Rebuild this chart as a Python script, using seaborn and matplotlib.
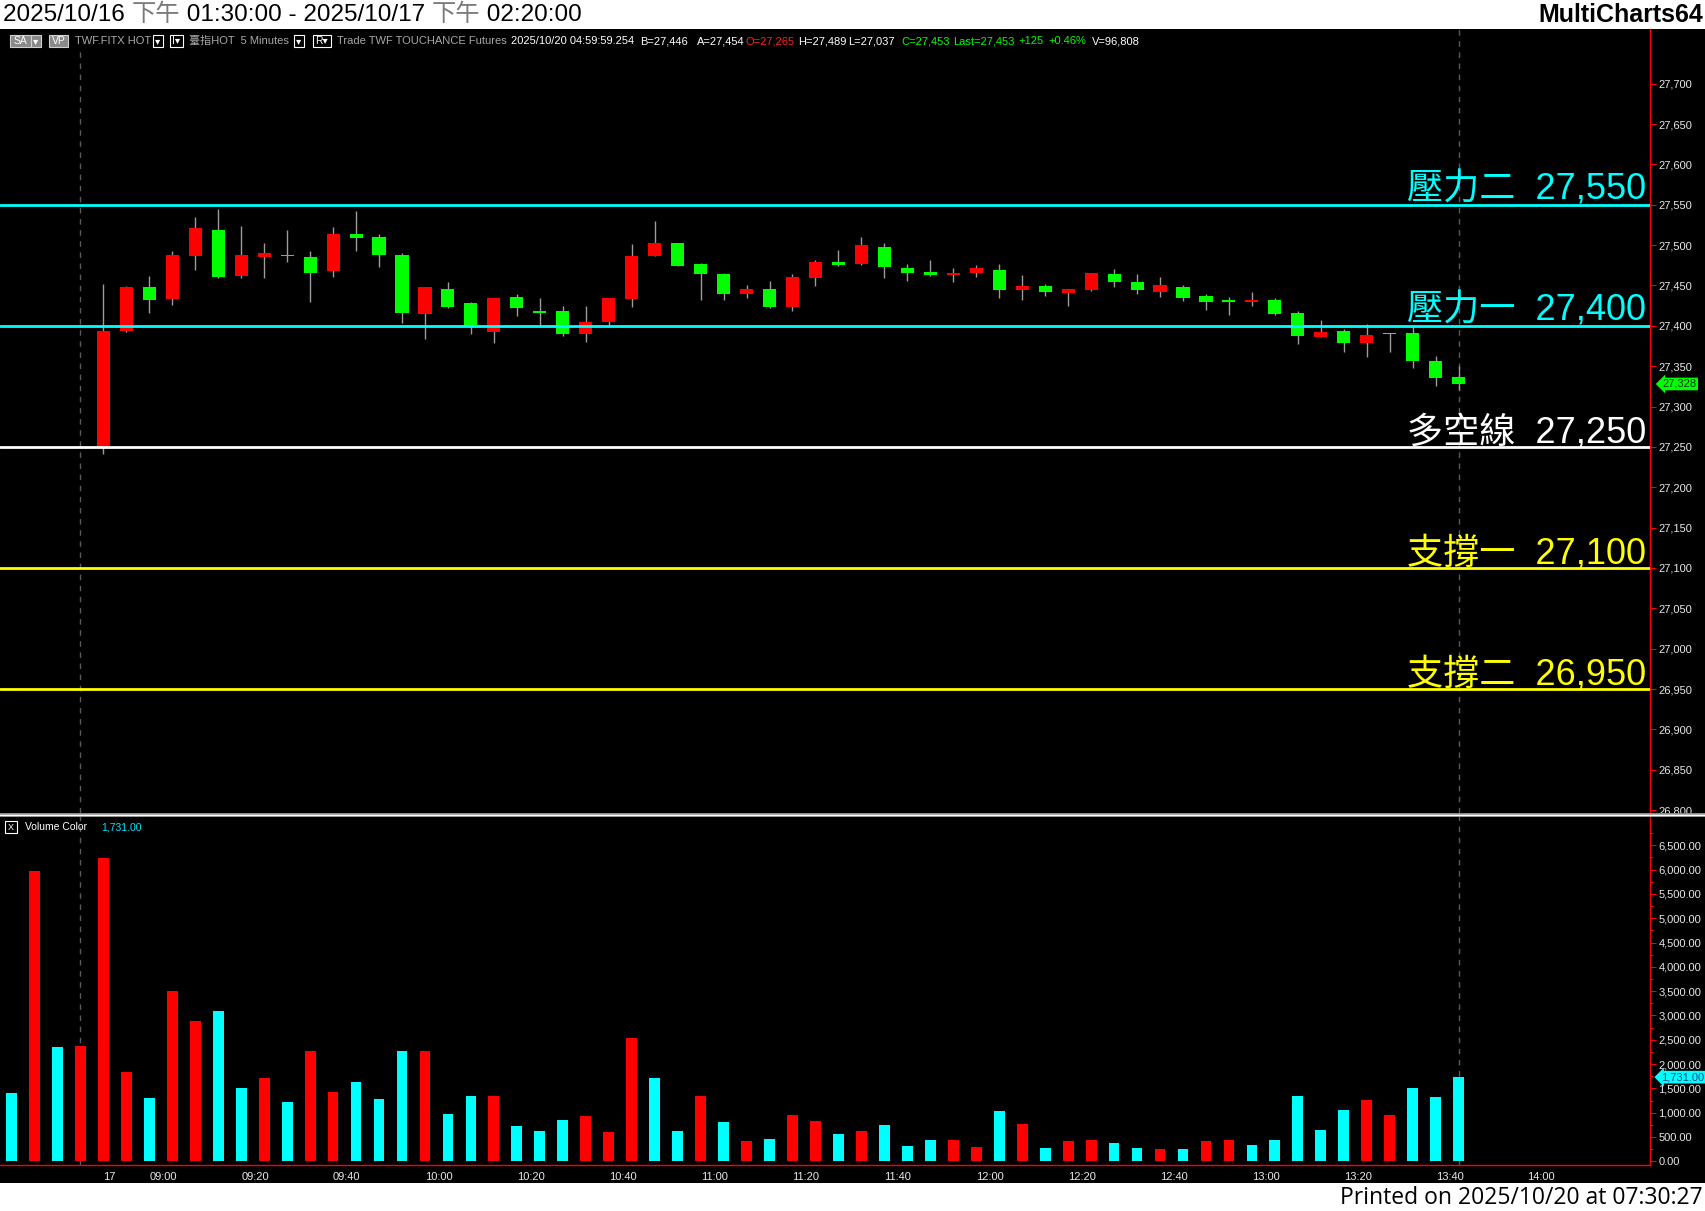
import numpy as np
import pandas as pd
import matplotlib
matplotlib.use("Agg")
import matplotlib.pyplot as plt
import seaborn as sns
from matplotlib.patches import Rectangle
from matplotlib.lines import Line2D
from matplotlib import transforms
from matplotlib.ticker import FuncFormatter, MultipleLocator

# ---------------- data ----------------
candle_bar = list(range(5, 65))          # bar numbers (1-based) that show a candle
opens = [27250, 27394, 27448, 27433, 27487, 27519, 27462, 27485, 27488, 27485,
         27468, 27514, 27510, 27488, 27415, 27446, 27428, 27392, 27436, 27418,
         27418, 27390, 27405, 27433, 27487, 27503, 27477, 27464, 27439, 27446,
         27423, 27459, 27479, 27477, 27498, 27472, 27467, 27463, 27466, 27469,
         27444, 27449, 27441, 27444, 27464, 27454, 27442, 27448, 27437, 27432,
         27429, 27432, 27416, 27386, 27394, 27379, 27391, 27391, 27356, 27336]
highs = [27452, 27449, 27462, 27493, 27535, 27545, 27524, 27503, 27519, 27493,
         27522, 27542, 27514, 27490, 27448, 27454, 27430, 27434, 27439, 27434,
         27424, 27424, 27434, 27501, 27530, 27503, 27478, 27465, 27451, 27456,
         27464, 27482, 27494, 27510, 27503, 27477, 27482, 27472, 27475, 27477,
         27463, 27452, 27446, 27466, 27470, 27464, 27460, 27450, 27439, 27436,
         27442, 27435, 27418, 27407, 27396, 27402, 27391, 27400, 27363, 27350]
lows = [27241, 27392, 27416, 27426, 27469, 27459, 27459, 27459, 27479, 27429,
        27461, 27493, 27473, 27403, 27384, 27422, 27390, 27379, 27412, 27400,
        27387, 27380, 27400, 27423, 27487, 27474, 27432, 27432, 27434, 27422,
        27418, 27449, 27474, 27475, 27459, 27456, 27462, 27454, 27460, 27435,
        27432, 27437, 27424, 27443, 27448, 27440, 27436, 27431, 27420, 27414,
        27424, 27413, 27378, 27386, 27367, 27361, 27368, 27348, 27326, 27320]
closes = [27394, 27448, 27432, 27488, 27521, 27461, 27488, 27490, 27486, 27465,
          27514, 27509, 27488, 27416, 27448, 27423, 27399, 27434, 27422, 27416,
          27390, 27405, 27434, 27487, 27503, 27474, 27464, 27439, 27446, 27423,
          27460, 27479, 27475, 27500, 27473, 27465, 27463, 27466, 27472, 27444,
          27449, 27442, 27446, 27465, 27454, 27444, 27451, 27435, 27430, 27429,
          27432, 27415, 27388, 27392, 27379, 27389, 27391, 27356, 27335, 27328]

volume = [1412, 5978, 2358, 2379, 6246, 1844, 1309, 3510, 2893, 3099,
          1515, 1721, 1227, 2276, 1433, 1639, 1289, 2276, 2276, 980,
          1351, 1351, 734, 631, 857, 939, 610, 2544, 1721, 631,
          1351, 816, 425, 466, 960, 836, 569, 631, 754, 322,
          446, 446, 302, 1042, 775, 281, 425, 446, 384, 281,
          261, 261, 425, 446, 343, 446, 1351, 651, 1063, 1268,
          960, 1515, 1330, 1731]
volume_dir = ["down", "up", "down", "up", "up", "up", "down", "up", "up", "down",
              "down", "up", "down", "up", "up", "down", "down", "down", "up", "down",
              "down", "up", "down", "down", "down", "up", "up", "up", "down", "down",
              "up", "down", "up", "down", "up", "up", "down", "up", "down", "down",
              "down", "up", "up", "down", "up", "down", "up", "up", "down", "down",
              "up", "down", "up", "up", "down", "down", "down", "down", "down", "up",
              "up", "down", "down", "down"]

time_tick_bars = [5, 7, 11, 15, 19, 23, 27, 31, 35, 39, 43, 47, 51, 55, 59, 63, 67]
time_tick_labels = ["17", "09:00", "09:20", "09:40", "10:00", "10:20", "10:40",
                    "11:00", "11:20", "11:40", "12:00", "12:20", "12:40", "13:00",
                    "13:20", "13:40", "14:00"]
session_break_bars = [4, 64]

level_values = [27550, 27400, 27250, 27100, 26950]
level_names = ["壓力二", "壓力一", "多空線", "支撐一", "支撐二"]
level_colors = ["#00ffff", "#00ffff", "#ffffff", "#ffff00", "#ffff00"]

price_ticks = list(range(26800, 27701, 50))
volume_ticks = list(range(0, 6501, 500))
last_price = 27328
last_volume = 1731.00

title_pieces = ["2025/10/16 ", "下午", " 01:30:00 - 2025/10/17 ", "下午", " 02:20:00"]
title_colors = ["black", "#7a7a7a", "black", "#7a7a7a", "black"]
header_texts = ["TWF.FITX HOT", "臺指HOT  5 Minutes", "Trade TWF TOUCHANCE Futures",
                "2025/10/20 04:59:59.254", "B=27,446", "A=27,454", "O=27,265",
                "H=27,489", "L=27,037", "C=27,453", "Last=27,453", "+125", "+0.46%",
                "V=96,808"]
header_colors = ["#a8a8a8", "#a8a8a8", "#a8a8a8", "white", "white", "white", "#ff2020",
                 "white", "white", "#00ff00", "#00ff00", "#00ff00", "#00ff00", "white"]
printed_text = "Printed on 2025/10/20 at 07:30:27"

# ---------------- style / fonts ----------------
sns.set_theme(style="dark", rc={"axes.facecolor": "black", "figure.facecolor": "white",
                                "axes.grid": False})
SANS = ["Liberation Sans", "Noto Sans CJK TC", "DejaVu Sans"]
PRINT = ["Open Sans", "DejaVu Sans"]
plt.rcParams["font.family"] = SANS

W, H = 1705, 1211
fig = plt.figure(figsize=(W / 100, H / 100), dpi=100, facecolor="white")
def fx(x): return x / W
def fy(y): return 1 - y / H

fig.add_artist(Rectangle((0, fy(1183)), 1, (1183 - 29) / H, transform=fig.transFigure,
                         fc="black", ec="none", zorder=-5))

ax_p = fig.add_axes([0, fy(813), fx(1650), (813 - 29) / H])
ax_v = fig.add_axes([0, fy(1165), fx(1650), (1165 - 816) / H])
for ax in (ax_p, ax_v):
    ax.set_facecolor("black")
    for s in ("top", "left"):
        ax.spines[s].set_visible(False)
    ax.spines["right"].set_color("#ff0000")
    ax.spines["right"].set_linewidth(1.0)
ax_p.spines["bottom"].set_visible(False)
ax_v.spines["bottom"].set_color("#ff0000")
ax_v.spines["bottom"].set_linewidth(1.0)

XMIN, XMAX = -0.5, 71.33

# ---------------- price panel ----------------
pos = np.array(candle_bar) - 1
o, h, l, c = (np.array(a, dtype=float) for a in (opens, highs, lows, closes))
cols = np.where(c > o, "#ff0000", np.where(c < o, "#00ff00", "#a0a0a0"))
ax_p.vlines(pos, l, h, color="#9c9c9c", lw=1.0, zorder=2)
body_h = np.maximum(np.abs(c - o), 1.4)
mid = (o + c) / 2
ax_p.bar(pos, body_h, bottom=mid - body_h / 2, width=0.57, color=cols, lw=0, zorder=3)

blend_p = transforms.blended_transform_factory(ax_p.transAxes, ax_p.transData)
for v, name, colr in zip(level_values, level_names, level_colors):
    ax_p.axhline(v, color=colr, lw=2.0, zorder=4)
    ax_p.annotate(f"{name}  {v:,}", xy=(0.9975, v), xycoords=blend_p, xytext=(0, 3.5),
                  textcoords="offset points", ha="right", va="baseline", fontsize=26,
                  fontweight="light", color=colr, zorder=5, family=SANS)

for b in session_break_bars:
    ax_p.axvline(b - 1, ymax=0.973 if b == session_break_bars[0] else 1.0,
                 color="#5a5a5a", lw=1, dashes=(4, 4), zorder=1)
    ax_v.axvline(b - 1, color="#5a5a5a", lw=1, dashes=(4, 4), zorder=1)

ax_p.set_xlim(XMIN, XMAX)
ax_p.set_ylim(26796.4, 27767.8)
ax_p.yaxis.tick_right()
ax_p.set_yticks(price_ticks)
ax_p.yaxis.set_major_formatter(FuncFormatter(lambda v, p: f"{int(round(v)):,}"))
ax_p.tick_params(axis="y", colors="#ff0000", labelcolor="#e8e8e8", length=4, width=0.8,
                 labelsize=8, pad=2, direction="out", right=True, left=False)
ax_p.tick_params(axis="x", bottom=False, labelbottom=False)
ax_p.annotate(f"{last_price:,}", xy=(1.0, last_price), xycoords=blend_p, xytext=(9, 0),
              textcoords="offset points", ha="left", va="center", fontsize=8,
              color="#003300", annotation_clip=False, zorder=6,
              bbox=dict(boxstyle="larrow,pad=0.12", fc="#00ff00", ec="none"))

# ---------------- volume panel ----------------
df = pd.DataFrame({"bar": np.arange(len(volume)), "vol": volume, "dir": volume_dir})
sns.barplot(data=df, x="bar", y="vol", hue="dir", palette={"up": "#ff0000", "down": "#00ffff"},
            native_scale=True, dodge=False, width=0.47, saturation=1, errorbar=None,
            legend=False, linewidth=0, ax=ax_v, zorder=3)
ax_v.set_xlabel("")
ax_v.set_ylabel("")
ax_v.set_xlim(XMIN, XMAX)
ax_v.set_ylim(-76, 7102)
ax_v.yaxis.tick_right()
ax_v.set_yticks(volume_ticks)
ax_v.yaxis.set_minor_locator(MultipleLocator(250))
ax_v.yaxis.set_major_formatter(FuncFormatter(lambda v, p: f"{v:,.2f}"))
ax_v.tick_params(axis="y", which="major", colors="#ff0000", labelcolor="#e8e8e8", length=4,
                 width=0.8, labelsize=8, pad=2, right=True, left=False)
ax_v.tick_params(axis="y", which="minor", colors="#ff0000", length=2, width=0.8,
                 right=True, left=False)
ax_v.set_xticks(np.array(time_tick_bars) - 1)
ax_v.set_xticklabels(time_tick_labels)
ax_v.tick_params(axis="x", colors="#ff0000", labelcolor="#e8e8e8", length=3, width=0.8,
                 labelsize=8, pad=2)
for lab in ax_v.get_xticklabels():
    lab.set_ha("left")
blend_v = transforms.blended_transform_factory(ax_v.transAxes, ax_v.transData)
ax_v.annotate(f"{last_volume:,.2f}", xy=(1.0, last_volume), xycoords=blend_v, xytext=(8, 0),
              textcoords="offset points", ha="left", va="center", fontsize=8,
              color="#1a4f8a", annotation_clip=False, zorder=6,
              bbox=dict(boxstyle="larrow,pad=0.12", fc="#00ffff", ec="none"))

# cover clipped 26,800 label and draw the panel separator
fig.add_artist(Rectangle((fx(1651), fy(824)), fx(54), 11 / H, transform=fig.transFigure,
                         fc="black", ec="none", zorder=2))
fig.add_artist(Line2D([0, 1], [fy(814.5)] * 2, transform=fig.transFigure,
                      color="#a8a8a8", lw=2.6, zorder=3))
fig.add_artist(Line2D([0, 1], [fy(814.5)] * 2, transform=fig.transFigure,
                      color="#ffffff", lw=0.9, zorder=3))

# ---------------- texts / header ----------------
renderer = fig.canvas.get_renderer()
title_fs = 17.5
def text_w(s, **kw):
    t = fig.text(0, 0, s + "|", **kw)
    w1 = t.get_window_extent(renderer).width
    t.remove()
    t = fig.text(0, 0, "|", **kw)
    w2 = t.get_window_extent(renderer).width
    t.remove()
    return w1 - w2

prefix = ""
for s, colr in zip(title_pieces, title_colors):
    xs = 3 + text_w(prefix, fontsize=title_fs, family=SANS) if prefix else 3
    fig.text(fx(xs), fy(15), s, color=colr, fontsize=title_fs, family=SANS,
             ha="left", va="center", zorder=4)
    prefix += s
fig.text(fx(1703), fy(15), "MultiCharts64", color="black", fontsize=18, fontweight="bold",
         family=SANS, ha="right", va="center", zorder=4)
fig.text(fx(1703), fy(1198), printed_text, color="black", fontsize=16.5, family=PRINT,
         ha="right", va="center", zorder=4)

def box(x0, x1, label, fc, ec, tc, y0=35, y1=47):
    fig.add_artist(Rectangle((fx(x0), fy(y1)), (x1 - x0) / W, (y1 - y0) / H,
                             transform=fig.transFigure, fc=fc, ec=ec, lw=0.8, zorder=4))
    fig.text(fx((x0 + x1) / 2), fy((y0 + y1) / 2), label, ha="center", va="center",
             color=tc, fontsize=7.5, family=SANS, zorder=5)

box(10, 31, "SA", "#8a8a8a", "#d0d0d0", "white")
box(31, 41, "▾", "#8a8a8a", "#d0d0d0", "white")
box(49, 68, "VP", "#8a8a8a", "#d0d0d0", "white")
box(153, 163, "▾", "black", "white", "white")
box(170, 183, "I▾", "black", "white", "white")
box(294, 304, "▾", "black", "white", "white")
box(313, 331, "R▾", "black", "white", "white")

header_x = [75, 189, 337, 511, 640, 697, 745, 798, 848, 901, 953, 1018, 1048, 1092]
hdr_fs = 8
for xs, s, colr in zip(header_x, header_texts, header_colors):
    fig.text(fx(xs), fy(41), s, color=colr, fontsize=hdr_fs, family=SANS,
             ha="left", va="center", zorder=5)

# volume panel header
fig.add_artist(Rectangle((fx(5), fy(833)), 12 / W, 12 / H, transform=fig.transFigure,
                         fc="black", ec="white", lw=0.8, zorder=4))
fig.text(fx(11), fy(827), "X", ha="center", va="center", color="white", fontsize=6.5,
         family=SANS, zorder=5)
fig.text(fx(25), fy(827), "Volume Color", ha="left", va="center", color="white",
         fontsize=7.5, family=SANS, zorder=5)
fig.text(fx(101), fy(827), f"{last_volume:,.2f}", ha="left", va="center", color="#00e5ff",
         fontsize=7.5, family=SANS, zorder=5)

fig.savefig("out.png", dpi=100, facecolor="white")
